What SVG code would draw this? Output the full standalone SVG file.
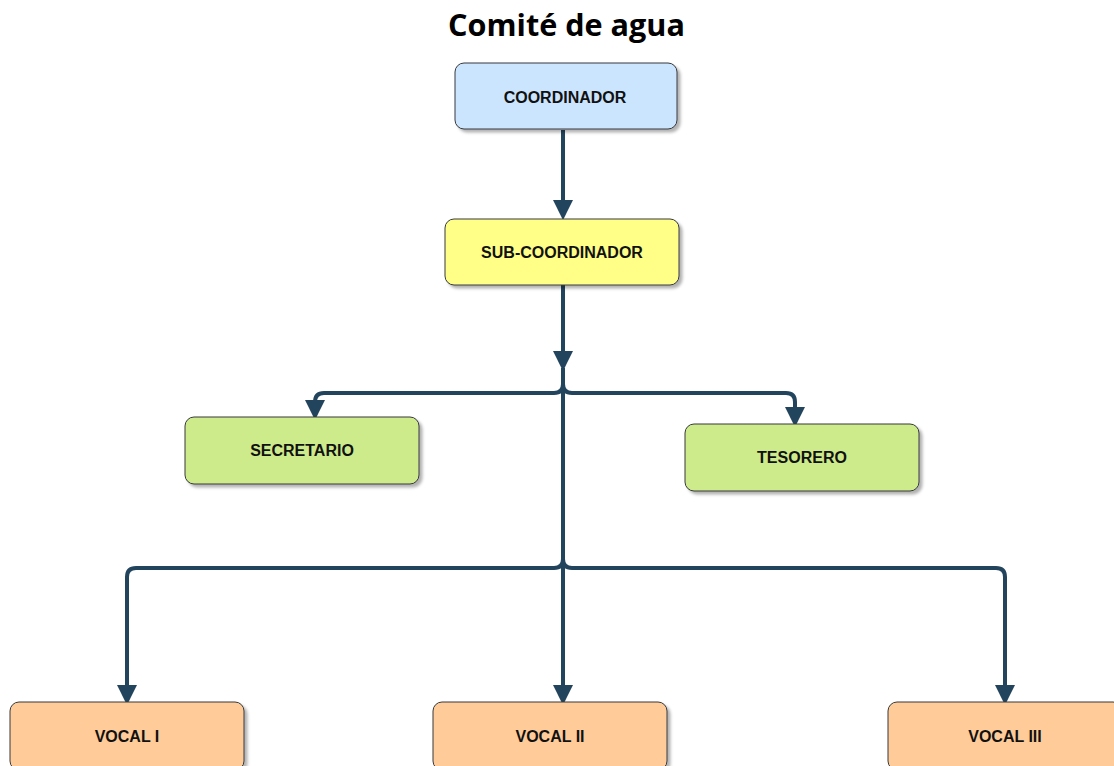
<svg xmlns="http://www.w3.org/2000/svg" width="1114" height="766" viewBox="0 0 1114 766">
<defs>
<filter id="sh" x="-10%" y="-10%" width="130%" height="140%">
<feDropShadow dx="3" dy="3" stdDeviation="1.5" flood-color="#000" flood-opacity="0.3"/>
</filter>
<marker id="ah" markerUnits="userSpaceOnUse" markerWidth="20" markerHeight="20" viewBox="0 0 18 18" refX="8" refY="9" orient="auto">
<path d="M0,0 L18,9 L0,18 z" fill="#23445d"/>
</marker>
<style>
.box{stroke:#36393d;stroke-width:1;filter:url(#sh)}
.lbl{font-family:"Liberation Sans",Arial,sans-serif;font-weight:bold;font-size:16px;fill:#111;text-anchor:middle}
.ttl{font-family:"Open Sans","Noto Sans",sans-serif;font-weight:bold;font-size:30.6px;fill:#000;text-anchor:middle}
.e{fill:none;stroke:#23445d;stroke-width:4;stroke-linejoin:round}
.ea{marker-end:url(#ah)}
</style>
</defs>
<rect width="1114" height="766" fill="#fff"/>
<text class="ttl" x="566.5" y="35.5">Comité de agua</text>
<g id="connectors">
<path class="e ea" d="M563,130 V209"/>
<path class="e ea" d="M563,285 V360"/>
<path class="e ea" d="M563,368 V384 Q563,393 554,393 H324 Q315,393 315,402 V409"/>
<path class="e ea" d="M563,368 V384 Q563,393 572,393 H786 Q795,393 795,402 V416"/>
<path class="e ea" d="M563,368 V559 Q563,568 554,568 H136 Q127,568 127,577 V694"/>
<path class="e ea" d="M563,368 V559 Q563,568 572,568 H996 Q1005,568 1005,577 V694"/>
<path class="e ea" d="M563,368 V694"/>
</g>
<g id="coordinador">
<rect class="box" x="455" y="63" width="222" height="66" rx="9" fill="#cce5ff"/>
<text class="lbl" x="565" y="102.5">COORDINADOR</text>
</g>
<g id="sub-coordinador">
<rect class="box" x="445" y="219" width="234" height="66" rx="9" fill="#ffff88"/>
<text class="lbl" x="562" y="258">SUB-COORDINADOR</text>
</g>
<g id="secretario">
<rect class="box" x="185" y="417" width="234" height="67" rx="9" fill="#cdeb8b"/>
<text class="lbl" x="302" y="456">SECRETARIO</text>
</g>
<g id="tesorero">
<rect class="box" x="685" y="424" width="234" height="67" rx="9" fill="#cdeb8b"/>
<text class="lbl" x="802" y="463">TESORERO</text>
</g>
<g id="vocal1">
<rect class="box" x="10" y="702" width="234" height="68" rx="9" fill="#ffcc99"/>
<text class="lbl" x="127" y="742">VOCAL I</text>
</g>
<g id="vocal2">
<rect class="box" x="433" y="702" width="234" height="68" rx="9" fill="#ffcc99"/>
<text class="lbl" x="550" y="742">VOCAL II</text>
</g>
<g id="vocal3">
<rect class="box" x="888" y="702" width="234" height="68" rx="9" fill="#ffcc99"/>
<text class="lbl" x="1005" y="742">VOCAL III</text>
</g>
</svg>
